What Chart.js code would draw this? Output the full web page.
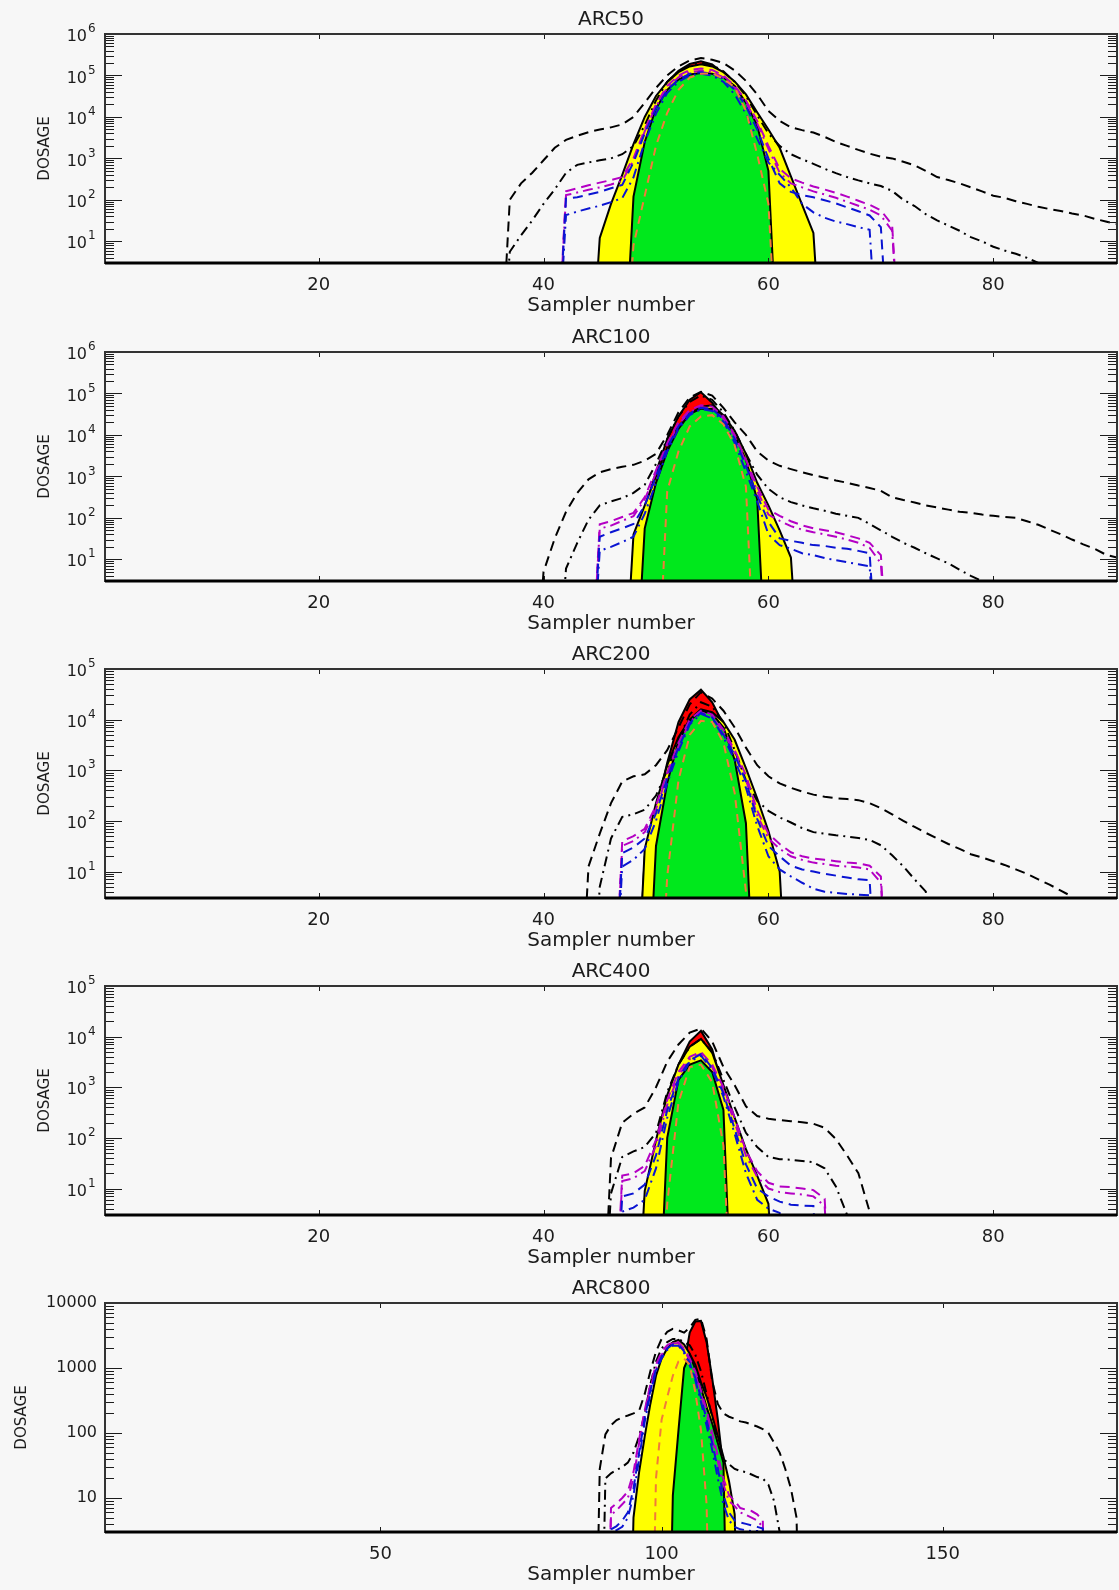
<!DOCTYPE html>
<html>
<head>
<meta charset="utf-8">
<title>ARC dosage per sampler</title>
<script src="https://cdn.jsdelivr.net/npm/chart.js@4.4.1/dist/chart.umd.min.js"></script>
<style>
  html, body { margin: 0; padding: 0; background: #f7f7f7; }
  body { width: 1119px; height: 1590px; position: relative; overflow: hidden; }
  canvas { position: absolute; left: 0; }
</style>
</head>
<body>
<canvas id="arc50" width="1119" height="317" style="top:0px"></canvas>
<canvas id="arc100" width="1119" height="317" style="top:318px"></canvas>
<canvas id="arc200" width="1119" height="317" style="top:635px"></canvas>
<canvas id="arc400" width="1119" height="317" style="top:952px"></canvas>
<canvas id="arc800" width="1119" height="317" style="top:1269px"></canvas>
<script>
// ---- data (dosage per sampler, 0 = below the plot floor) ----
const xTicksShort = [20, 40, 60, 80];
const xTicksLong = [50, 100, 150];
const yTicks1e6 = [10, 100, 1000, 10000, 100000, 1000000];
const yTicks1e5 = [10, 100, 1000, 10000, 100000];
const yTicks1e4 = [10, 100, 1000, 10000];

// ARC50, samplers from 36
const arc50Start = 36;
const arc50BlackDash = [0,100,250,450,900,1800,2800,3500,4300,5000, 5600,6600,10000,22000,50000,100000,166000,230000,263000,240000, 200000,132000,74000,35000,14000,8000,5600,4800,4200,3300, 2500,2000,1600,1300,1100,1000,830,680,500,355, 300,250,200,160,126,112,93,80,68,60, 54,47,42,35,30,26];
const arc50BlackDashDot = [0,5.6,14,32,80,180,450,700,800,900, 1000,1260,2000,6300,25000,70000,126000,178000,200000,178000, 126000,70000,32000,11000,4000,2000,1260,950,740,560, 440,355,295,250,215,165,100,71,45,32, 24,18,12.6,10,7.4,6,5,4,3,0];
const arc50MagentaDash = [0,0,0,0,0,0,160,190,225,260, 300,355,1000,5000,20000,56000,100000,135000,148000,135000, 100000,56000,25000,8000,2000,560,330,260,210,178, 148,120,95,76,56,25,0];
const arc50MagentaDashDot = [0,0,0,0,0,0,130,150,175,200, 235,290,900,4500,18000,50000,90000,120000,130000,120000, 90000,50000,22000,7000,1700,450,250,200,160,135, 112,90,72,58,42,18,0];
const arc50BlueDash = [0,0,0,0,0,0,107,115,135,155, 190,230,800,4000,16000,45000,80000,110000,120000,110000, 80000,45000,18000,5000,1000,250,155,130,115,98, 82,66,53,42,22,0];
const arc50BlueDashDot = [0,0,0,0,0,0,43,52,62,72, 88,110,350,2500,12000,38000,70000,100000,110000,100000, 70000,35000,12000,3000,800,400,200,80,50,37, 30,26,22,19,0];
const arc50Red = [0,0,0,0,0,0,0,0,0,6.3, 40,250,1600,8000,28000,70000,130000,190000,220000,185000, 112000,56000,20000,5000,1000,158,20,0];
const arc50Yellow = [0,0,0,0,0,0,0,0,0,12, 80,400,2200,10000,32000,70000,120000,165000,185000,165000, 120000,72000,35000,13000,5000,1800,370,76,16,0];
const arc50Green = [0,0,0,0,0,0,0,0,0,0, 0,0,120,2500,16000,45000,80000,105000,115000,110000, 89000,56000,22000,6300,500,0];
const arc50Orange = [0,0,0,0,0,0,0,0,0,0, 0,0,8,126,2000,12600,45000,89000,110000,112000, 83000,52000,14000,1260,80,0];

// ARC100, samplers from 39
const arc100Start = 39;
const arc100BlackDash = [0,5,32,140,400,850,1260,1500,1700,1900, 2400,3500,10000,35000,80000,110000,89000,45000,20000,10000, 4000,2400,1800,1500,1260,1070,930,800,700,600, 525,450,315,270,235,200,178,158,140,132, 120,112,105,100,83,68,52,40,30,23, 18,13,11];
const arc100BlackDashDot = [0,0,0,6,25,90,200,250,300,400, 630,2000,8000,28000,63000,89000,70000,35000,12600,3500, 1100,500,315,240,200,170,148,126,112,100, 71,50,35,25,19,14,10.5,8,5.6,4, 3,0];
const arc100MagentaDash = [0,0,0,0,0,0,70,83,105,132, 316,1400,6300,20000,40000,52000,48000,28000,10000,2500, 560,158,112,83,66,56,50,45,38,32, 25,12.6,0];
const arc100MagentaDashDot = [0,0,0,0,0,0,55,65,85,110, 280,1200,5500,18000,36000,47000,43000,25000,9000,2200, 450,120,85,63,52,45,40,35,30,25, 19,8,0];
const arc100BlueDash = [0,0,0,0,0,0,35,45,56,71, 200,1000,5000,16000,33000,45000,42000,24000,8000,1800, 350,80,32,28,25,22,21,19,18,16, 14,0];
const arc100BlueDashDot = [0,0,0,0,0,0,16,20,26,35, 126,700,4000,14000,30000,42000,38000,21000,6500,1300, 250,40,22,18,14,12.6,10.7,9.5,8.5,7.6, 6.8,0];
const arc100Red = [0,0,0,0,0,0,0,0,0,20, 160,1260,8000,28000,71000,107000,60000,26000,8000,2000, 300,60,12,0];
const arc100Yellow = [0,0,0,0,0,0,0,0,0,40, 200,1000,5000,16000,32000,48000,52000,30000,12600,3500, 700,200,50,11,0];
const arc100Green = [0,0,0,0,0,0,0,0,0,0, 56,700,4000,14000,32000,43000,42000,28000,10000,2500, 280,0];
const arc100Orange = [0,0,0,0,0,0,0,0,0,0, 0,0,440,4000,16000,28000,30000,18000,5600,560, 0];

// ARC200, samplers from 43
const arc200Start = 43;
const arc200BlackDash = [0,12.6,56,224,600,760,830,1260,2500,7000, 20000,35000,26000,15000,7000,2800,1260,760,550,450, 380,330,300,280,270,257,224,178,135,100, 76,58,45,35,28,22,19,16,13.5,11, 9,7,5.5,4.2,3.2,0];
const arc200BlackDashDot = [0,0,5,45,120,135,166,316,1000,4000, 12600,22000,18000,9000,2500,630,250,158,117,93, 72,60,56,52,49,46,42,33,21,12.6, 7,4,0];
const arc200MagentaDash = [0,0,0,0,40,50,70,200,900,3500, 10000,15000,12600,6300,2500,800,160,56,35,24, 20,18,17,16,15,14.5,13,8,0];
const arc200MagentaDashDot = [0,0,0,0,32,40,60,170,800,3000, 9000,14000,11500,5600,2200,650,130,45,28,20, 17,15,14,13,12.6,12,11,6,0];
const arc200BlueDash = [0,0,0,0,23,30,45,140,700,2800, 8500,13500,11000,5000,2000,600,110,32,20,13, 11,10,9,8.3,7.6,7,6.8,0];
const arc200BlueDashDot = [0,0,0,0,12.6,17,28,100,550,2400, 8000,13000,10500,4500,1600,450,80,20,11,8, 6,4.6,4,3.8,3.6,3.5,3.4,0];
const arc200Red = [0,0,0,0,0,0,20,160,1400,8900, 25000,39000,22000,8000,2500,500,100,20,3.5,0];
const arc200Yellow = [0,0,0,0,0,0,28,224,1260,4500, 10000,16000,14000,9000,4000,1100,280,63,10,0];
const arc200Green = [0,0,0,0,0,0,0,32,560,3800, 9300,15000,13000,7000,1600,90,0];
const arc200Orange = [0,0,0,0,0,0,0,0,8,630, 5000,9500,9000,3500,355,4,0];

// ARC400, samplers from 45
const arc400Start = 45;
const arc400BlackDash = [0,40,200,300,400,1000,3200,7000,12000,14500, 8000,2500,1100,420,270,240,224,214,204,190, 158,95,45,20,3.5,0];
const arc400BlackDashDot = [0,8,42,54,66,126,800,2800,6300,9000, 5000,1400,400,126,66,42,38,37,35,33, 25,11,3,0];
const arc400MagentaDash = [0,0,18,20,28,90,560,2000,4000,5000, 2800,1000,250,56,22,13,11,10.7,10,9.3, 6.3,0];
const arc400MagentaDashDot = [0,0,14,16,22,70,450,1700,3600,4600, 2500,850,200,45,17,10,8.5,8,7.6,7, 4.5,0];
const arc400BlueDash = [0,0,7,8,12,45,350,1500,3400,4500, 2400,750,150,30,10,7,5.5,4.8,4.6,4.5, 0];
const arc400BlueDashDot = [0,0,3.5,4.2,6,25,250,1300,3200,4200, 2200,650,120,20,6,4,3.3,0];
const arc400Red = [0,0,0,0,6.3,63,560,2800,8000,13000, 5600,900,200,45,12,3,0];
const arc400Yellow = [0,0,0,0,9,90,700,2800,6300,9000, 4800,1100,250,60,18,5,0];
const arc400Green = [0,0,0,0,0,0,100,1400,2800,3400, 2000,355,0];
const arc400Orange = [0,0,0,0,0,0,5,500,2500,2800, 1260,70,0];

// ARC800, samplers from 88
const arc800Start = 88;
const arc800BlackDash = [0,28,95,132,158,174,186,200,219,400, 890,1780,2800,3600,4000,3800,3500,4200,5500,5750, 2800,630,280,200,178,166,151,145,135,126, 115,100,71,50,28,14,5,0];
const arc800BlackDashDot = [0,0,20,24,27,30,35,50,89,200, 560,1260,2000,2500,2800,2800,2500,2240,1600,890, 400,178,71,40,33,28,26,25,23,21, 20,16,9,3,0];
const arc800MagentaDash = [0,0,0,7,8.3,10,12.6,25,80,224, 560,1120,1780,2240,2500,2500,2000,1400,890,450, 224,100,45,20,11,9,7,6.6,6.3,5.6, 4.5,0];
const arc800MagentaDashDot = [0,0,0,5.5,6.5,8,10,20,70,200, 500,1000,1600,2100,2400,2400,1900,1300,800,400, 190,85,36,16,9,7.5,6,5.5,5,4.5, 3.6,0];
const arc800BlueDash = [0,0,0,3.3,3.7,4.5,6,14,50,170, 450,950,1500,2000,2300,2300,1800,1200,700,350, 160,70,28,11,6,4.5,4.2,4,3.8,3.6, 3.4,0];
const arc800BlueDashDot = [0,0,0,3,3.2,3.6,5,11,40,150, 400,900,1400,1900,2200,2200,1700,1100,650,300, 130,55,20,8,4.5,3.6,3.3,3.2,3.1,3.1, 0];
const arc800Red = [0,0,0,0,0,0,0,0,0,0, 0,0,0,16,80,316,1100,3500,5200,5300, 2500,700,160,28,8,3.2,0];
const arc800Yellow = [0,0,0,0,0,0,0,5,25,89, 280,760,1400,2000,2500,2700,2300,1660,1120,600, 360,186,89,43,18,5.6,0];
const arc800Green = [0,0,0,0,0,0,0,0,0,0, 0,0,0,0,11,110,1000,1600,950,500, 250,140,70,35,0];
const arc800Orange = [0,0,0,0,0,0,0,0,0,0, 0,20,160,355,760,1260,1400,1120,420,112, 8,0];

// ---- drawing ----
const FONT = 'DejaVu Sans, Liberation Sans, sans-serif';
const INK = '#1c1c1c';

const DASH = [10, 6];
const DASH_DOT = [10, 5, 2, 5];

// IDL-like frame: box, inward log ticks on both sides, titles, 10^n labels
const idlFrame = {
    id: 'idlFrame',
    afterDraw(chart, args, opts) {
        const { ctx, chartArea: a, scales: { x, y } } = chart;
        ctx.save();
        ctx.strokeStyle = INK;
        ctx.lineWidth = 1;

        const eMin = Math.floor(Math.log10(y.min));
        const eMax = Math.ceil(Math.log10(y.max));
        for (let e = eMin; e <= eMax; e++) {
            for (let m = 1; m <= 9; m++) {
                const v = m * Math.pow(10, e);
                if (v < y.min || v > y.max * 1.0001) continue;
                const py = Math.round(y.getPixelForValue(v)) + 0.5;
                const len = m === 1 ? 17 : 9;
                ctx.beginPath();
                ctx.moveTo(a.left, py); ctx.lineTo(a.left + len, py);
                ctx.moveTo(a.right, py); ctx.lineTo(a.right - len, py);
                ctx.stroke();
            }
        }
        x.ticks.forEach(t => {
            const px = Math.round(x.getPixelForValue(t.value)) + 0.5;
            ctx.beginPath();
            ctx.moveTo(px, a.bottom); ctx.lineTo(px, a.bottom - 5);
            ctx.moveTo(px, a.top); ctx.lineTo(px, a.top + 5);
            ctx.stroke();
        });

        ctx.strokeStyle = '#333';
        ctx.lineWidth = 2;
        ctx.strokeRect(a.left, a.top, a.right - a.left, a.bottom - a.top);
        ctx.strokeStyle = '#000';
        ctx.lineWidth = 3;
        ctx.beginPath();
        ctx.moveTo(a.left, a.bottom); ctx.lineTo(a.right, a.bottom);
        ctx.stroke();

        ctx.fillStyle = INK;

        // power-of-ten labels with a raised exponent
        if (opts.powerLabels) {
            y.ticks.forEach(t => {
                const py = y.getPixelForValue(t.value);
                const exp = String(Math.round(Math.log10(t.value)));
                ctx.font = '16px ' + FONT;
                ctx.textAlign = 'right';
                ctx.textBaseline = 'middle';
                ctx.fillText('10', a.left - 18, py + 3);
                ctx.font = '12px ' + FONT;
                ctx.textAlign = 'left';
                ctx.fillText(exp, a.left - 17, py - 5);
            });
        }

        ctx.textAlign = 'center';
        ctx.textBaseline = 'middle';
        ctx.font = '20px ' + FONT;
        const cx = (a.left + a.right) / 2;
        ctx.fillText(opts.title, cx, a.top - 14);
        ctx.fillText('Sampler number', cx, a.bottom + 43);

        ctx.font = '15px ' + FONT;
        ctx.translate(opts.yTitleX, (a.top + a.bottom) / 2);
        ctx.rotate(-Math.PI / 2);
        ctx.fillText('DOSAGE', 0, 0);
        ctx.restore();
    }
};

function toPoints(start, values) {
    return values.map((v, i) => ({ x: start + i, y: v > 0 ? v : 1e-3 }));
}

function lineSet(start, values, color, dash) {
    return {
        data: toPoints(start, values),
        borderColor: color,
        borderWidth: 2,
        borderDash: dash,
        pointRadius: 0,
        fill: false,
        tension: 0
    };
}

function areaSet(start, values, color) {
    return {
        data: toPoints(start, values),
        borderColor: '#000',
        borderWidth: 2,
        backgroundColor: color,
        pointRadius: 0,
        fill: 'start',
        tension: 0
    };
}

function createPanel(p) {
    const s = p.start;
    // first dataset is painted last (on top)
    const datasets = [
        lineSet(s, p.orange, '#f27a3a', [8, 6]),
        lineSet(s, p.blueDashDot, '#0a14d2', DASH_DOT),
        lineSet(s, p.blueDash, '#0a14d2', DASH),
        lineSet(s, p.magentaDashDot, '#b400c4', DASH_DOT),
        lineSet(s, p.magentaDash, '#b400c4', DASH),
        lineSet(s, p.blackDashDot, '#000', DASH_DOT),
        lineSet(s, p.blackDash, '#000', DASH),
        areaSet(s, p.green, '#00e81c'),
        areaSet(s, p.yellow, '#ffff00'),
        areaSet(s, p.red, '#ff0000')
    ];

    new Chart(document.getElementById(p.id), {
        type: 'line',
        data: { datasets },
        options: {
            responsive: false,
            animation: false,
            events: [],
            layout: { padding: { top: 34, right: 2, bottom: 0, left: 0 } },
            plugins: {
                legend: { display: false },
                tooltip: { enabled: false },
                idlFrame: { title: p.title, yTitleX: p.yTitleX, powerLabels: p.powerLabels }
            },
            scales: {
                x: {
                    type: 'linear',
                    min: 1,
                    max: p.xMax,
                    grid: { display: false, drawTicks: false },
                    border: { display: false },
                    afterBuildTicks: sc => { sc.ticks = p.xTicks.map(v => ({ value: v })); },
                    afterFit: sc => { sc.height = 54; },
                    ticks: {
                        autoSkip: false, maxRotation: 0, padding: 12,
                        color: INK, font: { family: FONT, size: 18 }
                    }
                },
                y: {
                    type: 'logarithmic',
                    min: 3,
                    max: p.yMax,
                    grid: { display: false, drawTicks: false },
                    border: { display: false },
                    afterBuildTicks: sc => { sc.ticks = p.yTicks.map(v => ({ value: v })); },
                    afterFit: sc => { sc.width = 105; },
                    ticks: {
                        display: !p.powerLabels,
                        autoSkip: false, padding: 8,
                        color: INK, font: { family: FONT, size: 16 },
                        callback: v => String(v)
                    }
                }
            }
        },
        plugins: [idlFrame]
    });
}

const panels = [
    { id: 'arc50', title: 'ARC50', start: arc50Start, xMax: 91, xTicks: xTicksShort, yMax: 1e6, yTicks: yTicks1e6, powerLabels: true, yTitleX: 45,
      blackDash: arc50BlackDash, blackDashDot: arc50BlackDashDot, magentaDash: arc50MagentaDash, magentaDashDot: arc50MagentaDashDot,
      blueDash: arc50BlueDash, blueDashDot: arc50BlueDashDot, red: arc50Red, yellow: arc50Yellow, green: arc50Green, orange: arc50Orange },
    { id: 'arc100', title: 'ARC100', start: arc100Start, xMax: 91, xTicks: xTicksShort, yMax: 1e6, yTicks: yTicks1e6, powerLabels: true, yTitleX: 45,
      blackDash: arc100BlackDash, blackDashDot: arc100BlackDashDot, magentaDash: arc100MagentaDash, magentaDashDot: arc100MagentaDashDot,
      blueDash: arc100BlueDash, blueDashDot: arc100BlueDashDot, red: arc100Red, yellow: arc100Yellow, green: arc100Green, orange: arc100Orange },
    { id: 'arc200', title: 'ARC200', start: arc200Start, xMax: 91, xTicks: xTicksShort, yMax: 1e5, yTicks: yTicks1e5, powerLabels: true, yTitleX: 45,
      blackDash: arc200BlackDash, blackDashDot: arc200BlackDashDot, magentaDash: arc200MagentaDash, magentaDashDot: arc200MagentaDashDot,
      blueDash: arc200BlueDash, blueDashDot: arc200BlueDashDot, red: arc200Red, yellow: arc200Yellow, green: arc200Green, orange: arc200Orange },
    { id: 'arc400', title: 'ARC400', start: arc400Start, xMax: 91, xTicks: xTicksShort, yMax: 1e5, yTicks: yTicks1e5, powerLabels: true, yTitleX: 45,
      blackDash: arc400BlackDash, blackDashDot: arc400BlackDashDot, magentaDash: arc400MagentaDash, magentaDashDot: arc400MagentaDashDot,
      blueDash: arc400BlueDash, blueDashDot: arc400BlueDashDot, red: arc400Red, yellow: arc400Yellow, green: arc400Green, orange: arc400Orange },
    { id: 'arc800', title: 'ARC800', start: arc800Start, xMax: 181, xTicks: xTicksLong, yMax: 1e4, yTicks: yTicks1e4, powerLabels: false, yTitleX: 22,
      blackDash: arc800BlackDash, blackDashDot: arc800BlackDashDot, magentaDash: arc800MagentaDash, magentaDashDot: arc800MagentaDashDot,
      blueDash: arc800BlueDash, blueDashDot: arc800BlueDashDot, red: arc800Red, yellow: arc800Yellow, green: arc800Green, orange: arc800Orange }
];

panels.forEach(createPanel);
</script>
</body>
</html>
